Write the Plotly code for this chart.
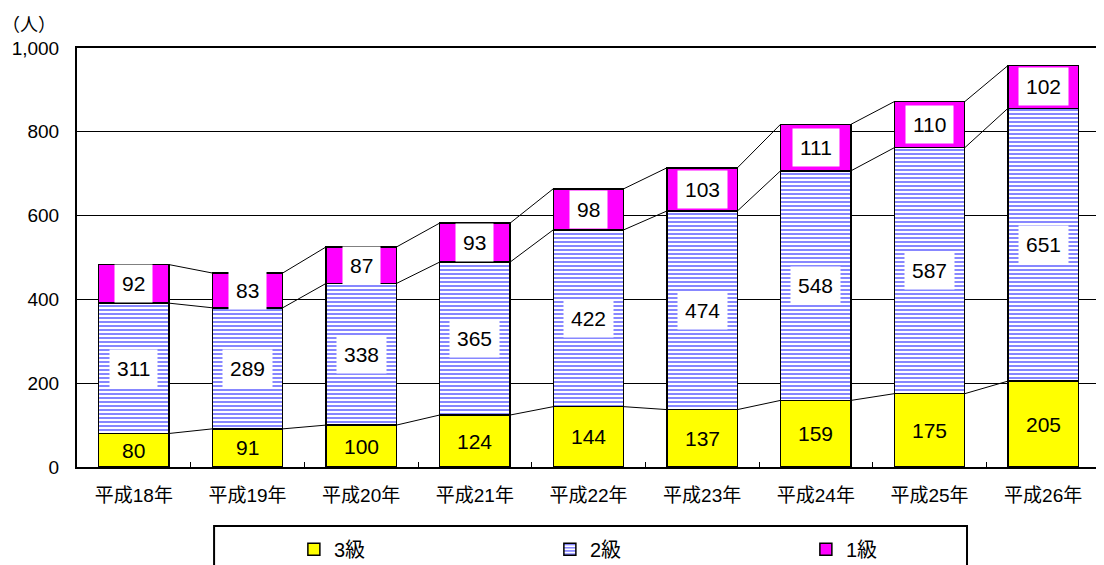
import plotly.graph_objects as go

categories = ["平成18年", "平成19年", "平成20年", "平成21年", "平成22年",
              "平成23年", "平成24年", "平成25年", "平成26年"]
grade3 = [80, 91, 100, 124, 144, 137, 159, 175, 205]
grade2 = [311, 289, 338, 365, 422, 474, 548, 587, 651]
grade1 = [92, 83, 87, 93, 98, 103, 111, 110, 102]
y_ticks = [0, 200, 400, 600, 800, 1000]

n = len(categories)
xs = list(range(n))
bar_w = 0.62
FONT = "Liberation Sans, Noto Sans CJK JP"

fig = go.Figure()
line_style = dict(color="black", width=1.5)

fig.add_trace(go.Bar(x=xs, y=grade3, name="3級", width=bar_w,
                     marker=dict(color="#FFFF00", line=line_style)))
fig.add_trace(go.Bar(x=xs, y=grade2, name="2級", width=bar_w,
                     marker=dict(color="white", line=line_style,
                                 pattern=dict(shape="-", fgcolor="#1010FF", bgcolor="white",
                                              size=4, solidity=0.5))))
fig.add_trace(go.Bar(x=xs, y=grade1, name="1級", width=bar_w,
                     marker=dict(color="#FF00FF", line=line_style)))

# series connector lines between neighbouring bars
cum1 = grade3
cum2 = [a + b for a, b in zip(grade3, grade2)]
cum3 = [a + b + c for a, b, c in zip(grade3, grade2, grade1)]
lx, ly = [], []
for level in (cum1, cum2, cum3):
    for i in range(n - 1):
        lx += [i + bar_w / 2, i + 1 - bar_w / 2, None]
        ly += [level[i], level[i + 1], None]
fig.add_trace(go.Scatter(x=lx, y=ly, mode="lines", line=dict(color="black", width=1),
                         showlegend=False, hoverinfo="skip"))

lab_font = dict(family=FONT, size=21, color="black")
for i in range(n):
    fig.add_annotation(x=i, y=grade3[i] / 2, text=str(grade3[i]), showarrow=False,
                       font=lab_font)
    fig.add_annotation(x=i, y=cum1[i] + grade2[i] / 2, text=str(grade2[i]), showarrow=False,
                       font=lab_font, bgcolor="white", borderpad=7)
    fig.add_annotation(x=i, y=cum2[i] + grade1[i] / 2, text=str(grade1[i]), showarrow=False,
                       font=lab_font, bgcolor="white", borderpad=7)

# unit label above the y axis
fig.add_annotation(xref="paper", yref="paper", x=0, xanchor="right", xshift=-20,
                   y=1, yanchor="bottom", yshift=12, text="（人）", showarrow=False,
                   borderpad=0, font=dict(size=18))

# legend frame
fig.add_shape(type="rect", xref="paper", yref="paper", x0=0.134, x1=0.870,
              y0=-0.26, y1=-0.141, line=dict(color="black", width=2))

# page body has an 8px margin, so the figure is 8px smaller and margins shifted
fig.update_layout(
    barmode="stack",
    width=1096, height=557,
    margin=dict(l=69, r=4, t=40, b=98, autoexpand=False),
    plot_bgcolor="white", paper_bgcolor="white",
    font=dict(family=FONT, size=20, color="black"),
    showlegend=True,
    legend=dict(orientation="h", x=0.212, xanchor="left", y=-0.15, yanchor="top",
                entrywidth=211, entrywidthmode="pixels", traceorder="normal",
                font=dict(size=20), bgcolor="rgba(0,0,0,0)"),
    xaxis=dict(range=[-0.5, n - 0.5], tickvals=xs, ticktext=categories, ticks="",
               showline=True, linecolor="black", linewidth=2, mirror=True,
               showgrid=False, zeroline=False, ticklabelstandoff=10,
               tickfont=dict(size=19),
               minor=dict(tickvals=[i + 0.5 for i in range(n - 1)], ticks="inside",
                          ticklen=5, tickcolor="black", showgrid=False)),
    yaxis=dict(range=[0, 1000], tickvals=y_ticks, tickformat=",d",
               showline=True, linecolor="black", linewidth=2, mirror=True,
               showgrid=True, gridcolor="black", gridwidth=1, zeroline=False,
               ticks="", ticklabelstandoff=12, tickfont=dict(size=19)),
)

fig.write_html("out.html")
